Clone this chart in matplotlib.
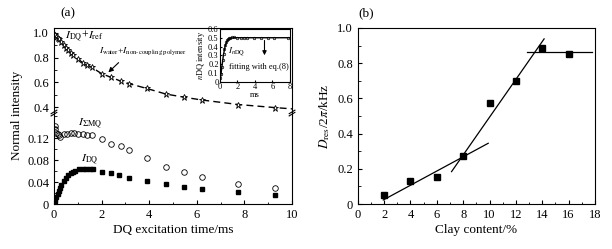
import numpy as np
import matplotlib
matplotlib.use('Agg')
import matplotlib.pyplot as plt
from matplotlib.ticker import MultipleLocator

plt.rcParams['font.family'] = ['Liberation Serif', 'DejaVu Serif']
plt.rcParams['mathtext.fontset'] = 'stix'
plt.rcParams['xtick.direction'] = 'in'
plt.rcParams['ytick.direction'] = 'in'

# (a) DQ build-up data
t_ref = [0.02, 0.05, 0.1, 0.15, 0.2, 0.3, 0.4, 0.5, 0.6, 0.7, 0.8, 1.0, 1.2, 1.4, 1.6,
         2.0, 2.4, 2.8, 3.15, 3.9, 4.7, 5.45, 6.2, 7.75, 9.3]
i_ref = [0.99, 0.98, 0.97, 0.96, 0.95, 0.93, 0.90, 0.88, 0.86, 0.84, 0.82, 0.79, 0.76, 0.74, 0.72,
         0.67, 0.64, 0.61, 0.59, 0.55, 0.505, 0.48, 0.457, 0.42, 0.395]
t_ref_line = t_ref + [10.0]
i_ref_line = i_ref + [0.385]

t_dq = [0.05, 0.1, 0.15, 0.2, 0.25, 0.3, 0.4, 0.5, 0.6, 0.7, 0.8, 0.9, 1.05, 1.2, 1.35, 1.5, 1.62,
        2.0, 2.4, 2.75, 3.15, 3.9, 4.7, 5.45, 6.2, 7.75, 9.3]
i_dq = [0.005, 0.012, 0.018, 0.024, 0.030, 0.035, 0.042, 0.048, 0.053, 0.056, 0.059, 0.061,
        0.063, 0.063, 0.063, 0.063, 0.063,
        0.059, 0.056, 0.052, 0.048, 0.042, 0.036, 0.031, 0.027, 0.021, 0.016]

t_mq = [0.03, 0.06, 0.1, 0.15, 0.2, 0.25, 0.4, 0.55, 0.7, 0.85, 1.0, 1.2, 1.4, 1.6,
        2.0, 2.4, 2.8, 3.15, 3.9, 4.7, 5.45, 6.2, 7.75, 9.3]
i_mq = [0.142, 0.136, 0.130, 0.127, 0.125, 0.122, 0.127, 0.128, 0.130, 0.129, 0.127, 0.127, 0.126, 0.125,
        0.118, 0.110, 0.105, 0.098, 0.083, 0.068, 0.059, 0.0485, 0.036, 0.0285]

# inset: normalised DQ
t_ndq = [0.05, 0.1, 0.2, 0.3, 0.4, 0.5, 0.6, 0.7, 0.8, 0.9, 1.0, 1.2, 1.4, 1.6,
         2.0, 2.4, 2.8, 3.15, 3.9, 4.7, 5.45, 6.2, 7.75]
i_ndq = [0.04, 0.09, 0.17, 0.25, 0.32, 0.37, 0.42, 0.45, 0.47, 0.49, 0.50, 0.50, 0.51, 0.51,
         0.50, 0.50, 0.50, 0.50, 0.50, 0.50, 0.50, 0.50, 0.50]
t_fit = [0.0, 0.2, 0.4, 0.6, 0.8, 1.0, 1.3, 1.6, 2.0, 8.0]
i_fit = [0.0, 0.16, 0.31, 0.41, 0.46, 0.485, 0.497, 0.50, 0.50, 0.50]

# (b) residual dipolar coupling vs clay content
clay = [2, 4, 6, 8, 10, 12, 14, 16]
dres = [0.05, 0.131, 0.154, 0.273, 0.573, 0.698, 0.886, 0.855]
fit1_x = [1.94, 9.9]
fit1_y = [0.023, 0.345]
fit2_x = [7.12, 14.14]
fit2_y = [0.184, 0.938]
fit3_x = [12.88, 17.8]
fit3_y = [0.865, 0.865]

fig = plt.figure(figsize=(6.12, 2.49), dpi=100)

ax_up = fig.add_axes([0.0882, 0.538, 0.389, 0.3496])
ax_lo = fig.add_axes([0.0882, 0.1807, 0.389, 0.3573], sharex=ax_up)

ax_up.plot(t_ref_line, i_ref_line, color='black', ls=(0, (5, 3)), lw=1.0)
ax_up.plot(t_ref, i_ref, ls='none', marker='*', mfc='white', mec='black', ms=5, mew=0.6)
ax_up.set_ylim(0.335, 1.04)
ax_up.yaxis.set_minor_locator(MultipleLocator(0.1))
ax_up.spines['bottom'].set_visible(False)
ax_up.tick_params(axis='x', which='both', bottom=False, labelbottom=False)
ax_up.set_yticks([0.4, 0.6, 0.8, 1.0])
ax_up.set_yticklabels(['0.4', '0.6', '0.8', '1.0'])

ax_lo.plot(t_mq, i_mq, ls='none', marker='o', mfc='none', mec='black', ms=4, mew=0.6)
ax_lo.plot(t_dq, i_dq, ls='none', marker='s', color='black', ms=3.5)
ax_lo.set_ylim(0, 0.162)
ax_lo.set_xlim(0, 10)
ax_lo.spines['top'].set_visible(False)
ax_lo.set_yticks([0, 0.04, 0.08, 0.12])
ax_lo.set_yticklabels(['0', '0.04', '0.08', '0.12'])
ax_lo.yaxis.set_minor_locator(MultipleLocator(0.02))
ax_lo.xaxis.set_major_locator(MultipleLocator(2))
ax_lo.xaxis.set_minor_locator(MultipleLocator(1))
ax_lo.set_xlabel('DQ excitation time/ms', fontsize=9.5, labelpad=2)

for a in (ax_up, ax_lo):
    a.tick_params(labelsize=9, length=3, width=0.8)
    a.tick_params(which='minor', length=1.8)

# break marks
for xb in (0, 1):
    ax_lo.plot([xb - 0.012, xb + 0.012], [0.99, 1.03], transform=ax_lo.transAxes,
               color='black', lw=0.8, clip_on=False)
    ax_lo.plot([xb - 0.012, xb + 0.012], [1.015, 1.055], transform=ax_lo.transAxes,
               color='black', lw=0.8, clip_on=False)

ax_up.text(0.45, 0.975, r'$I_{\rm DQ}$+$I_{\rm ref}$', fontsize=8.5, va='center')
ax_up.text(1.9, 0.85, r'$I_{\rm water}$+$I_{\rm non\text{-}coupling\ polymer}$', fontsize=6.8, va='center')
ax_up.annotate('', xy=(2.2, 0.665), xytext=(2.8, 0.775),
               arrowprops=dict(arrowstyle='-|>', color='black', lw=0.8, mutation_scale=7))
ax_lo.text(1.0, 0.148, r'$I_{\Sigma\rm MQ}$', fontsize=8.5, va='center')
ax_lo.text(1.15, 0.081, r'$I_{\rm DQ}$', fontsize=8.5, va='center')

# inset
ax_in = fig.add_axes([0.3595, 0.671, 0.114, 0.213])
ax_in.plot(t_fit, i_fit, color='black', lw=1.0)
ax_in.plot(t_ndq, i_ndq, ls='none', marker='o', mfc='none', mec='black', ms=1.8, mew=0.5)
ax_in.set_xlim(0, 8)
ax_in.set_ylim(0, 0.6)
ax_in.set_xticks([0, 2, 4, 6, 8])
ax_in.set_yticks([0, 0.1, 0.2, 0.3, 0.4, 0.5, 0.6])
ax_in.set_yticklabels(['0', '0.1', '0.2', '0.3', '0.4', '0.5', '0.6'])
ax_in.tick_params(labelsize=6, length=1.5, pad=1)
ax_in.set_xlabel('ms', fontsize=6, labelpad=0)
ax_in.set_ylabel(r'$n$DQ intensity', fontsize=6, labelpad=1)
ax_in.text(0.9, 0.34, r'$I_{n\rm DQ}$', fontsize=6.5, va='center')
ax_in.text(1.0, 0.17, 'fitting with eq.(8)', fontsize=6, va='center')
ax_in.annotate('', xy=(5.1, 0.27), xytext=(5.1, 0.5),
               arrowprops=dict(arrowstyle='-|>', color='black', lw=0.8, mutation_scale=6))

fig.text(0.028, 0.535, 'Normal intensity', rotation=90, fontsize=9.5, va='center', ha='center')
fig.text(0.098, 0.945, '(a)', fontsize=9.5, va='center')

# (b)
ax_b = fig.add_axes([0.5845, 0.1807, 0.3877, 0.7069])
ax_b.plot(clay, dres, ls='none', marker='s', color='black', ms=3.8)
ax_b.plot(fit1_x, fit1_y, color='black', lw=0.9)
ax_b.plot(fit2_x, fit2_y, color='black', lw=0.9)
ax_b.plot(fit3_x, fit3_y, color='black', lw=0.9)
ax_b.set_xlim(0, 18)
ax_b.set_ylim(0, 1.0)
ax_b.xaxis.set_major_locator(MultipleLocator(2))
ax_b.xaxis.set_minor_locator(MultipleLocator(1))
ax_b.set_yticks([0, 0.2, 0.4, 0.6, 0.8, 1.0])
ax_b.set_yticklabels(['0', '0.2', '0.4', '0.6', '0.8', '1.0'])
ax_b.yaxis.set_minor_locator(MultipleLocator(0.1))
ax_b.tick_params(labelsize=9, length=3, width=0.8)
ax_b.tick_params(which='minor', length=1.8)
ax_b.set_xlabel('Clay content/%', fontsize=9.5, labelpad=2)
ax_b.set_ylabel(r'$D_{\rm res}$/2$\pi$/kHz', fontsize=9.5, labelpad=4)
fig.text(0.585, 0.945, '(b)', fontsize=9.5, va='center')

fig.savefig('out.png', dpi=100)
